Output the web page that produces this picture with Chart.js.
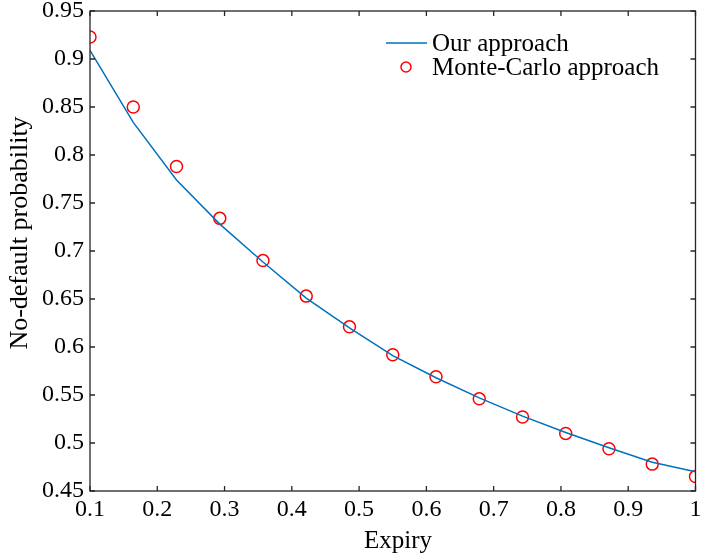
<!DOCTYPE html>
<html>
<head>
<meta charset="utf-8">
<script src="https://cdn.jsdelivr.net/npm/chart.js@4/dist/chart.umd.min.js"></script>
<style>
html,body{margin:0;padding:0;background:#fff;}
#wrap{width:703px;height:556px;}
</style>
</head>
<body>
<div id="wrap"><canvas id="c" width="703" height="556"></canvas></div>
<script>
const expiry = [0.1, 0.1643, 0.2286, 0.2929, 0.3571, 0.4214, 0.4857, 0.55, 0.6143, 0.6786, 0.7429, 0.8071, 0.8714, 0.9357, 1.0];
const ourApproach = [0.909, 0.834, 0.774, 0.728, 0.6885, 0.651, 0.620, 0.591, 0.568, 0.547, 0.528, 0.511, 0.495, 0.480, 0.470];
const monteCarlo = [0.923, 0.850, 0.788, 0.734, 0.690, 0.653, 0.621, 0.592, 0.569, 0.546, 0.527, 0.510, 0.494, 0.478, 0.465];
const xTicks = [0.1, 0.2, 0.3, 0.4, 0.5, 0.6, 0.7, 0.8, 0.9, 1];
const yTicks = [0.45, 0.5, 0.55, 0.6, 0.65, 0.7, 0.75, 0.8, 0.85, 0.9, 0.95];
const seriesNames = ['Our approach', 'Monte-Carlo approach'];
const xTitle = 'Expiry';
const yTitle = 'No-default probability';

const FONT = '"Liberation Serif", "Times New Roman", serif';
const FS_TICK = 24;
const FS_TITLE = 25;
const lineColor = '#0072BD';
const markColor = '#FF0000';

const fmt = v => String(+v.toFixed(2));

const framePlugin = {
  id: 'frame',
  afterDatasetsDraw(chart) {
    const {ctx, chartArea: a, scales} = chart;
    ctx.save();
    ctx.strokeStyle = '#262626';
    ctx.lineWidth = 1.3;
    ctx.strokeRect(a.left, a.top, a.right - a.left, a.bottom - a.top);
    const tl = 5;
    ctx.beginPath();
    xTicks.forEach(v => {
      const x = scales.x.getPixelForValue(v);
      ctx.moveTo(x, a.bottom); ctx.lineTo(x, a.bottom - tl);
      ctx.moveTo(x, a.top); ctx.lineTo(x, a.top + tl);
    });
    yTicks.forEach(v => {
      const y = scales.y.getPixelForValue(v);
      ctx.moveTo(a.left, y); ctx.lineTo(a.left + tl, y);
      ctx.moveTo(a.right, y); ctx.lineTo(a.right - tl, y);
    });
    ctx.stroke();

    // y title
    ctx.fillStyle = '#000';
    ctx.font = '26px ' + FONT;
    ctx.textAlign = 'center';
    ctx.textBaseline = 'middle';
    ctx.save();
    ctx.translate(20, 233);
    ctx.rotate(-Math.PI / 2);
    ctx.fillText(yTitle, 0, 0);
    ctx.restore();

    // x title
    ctx.font = FS_TITLE + 'px ' + FONT;
    ctx.fillText(xTitle, 398, 541);

    // legend
    ctx.textAlign = 'left';
    const lx = 386, tx = 432, y1 = 43, y2 = 67;
    ctx.strokeStyle = lineColor;
    ctx.lineWidth = 1.5;
    ctx.beginPath(); ctx.moveTo(lx, y1); ctx.lineTo(lx + 41, y1); ctx.stroke();
    ctx.fillText(seriesNames[0], tx, y1 + 1);
    ctx.strokeStyle = markColor;
    ctx.beginPath(); ctx.arc(lx + 20, y2, 5, 0, Math.PI * 2); ctx.stroke();
    ctx.fillText(seriesNames[1], tx, y2 + 1);
    ctx.restore();
  }
};

new Chart(document.getElementById('c'), {
  type: 'scatter',
  data: {
    datasets: [
      {
        label: seriesNames[0],
        data: expiry.map((x, i) => ({x, y: ourApproach[i]})),
        showLine: true,
        borderColor: lineColor,
        borderWidth: 1.5,
        pointRadius: 0,
        fill: false,
        tension: 0
      },
      {
        label: seriesNames[1],
        data: expiry.map((x, i) => ({x, y: monteCarlo[i]})),
        showLine: false,
        borderColor: markColor,
        backgroundColor: 'rgba(0,0,0,0)',
        borderWidth: 1.5,
        pointRadius: 6,
        pointStyle: 'circle'
      }
    ]
  },
  options: {
    responsive: false,
    animation: false,
    devicePixelRatio: 1,
    layout: {padding: {top: 11, right: 6, left: 0, bottom: 0}},
    plugins: {legend: {display: false}, tooltip: {enabled: false}},
    scales: {
      x: {
        type: 'linear', min: 0.1, max: 1,
        afterBuildTicks: s => { s.ticks = xTicks.map(v => ({value: v})); },
        afterFit: s => { s.height = 65; s.paddingLeft = 0; s.paddingRight = 0; },
        grid: {display: false, drawTicks: false},
        border: {display: false},
        ticks: {color: '#000', font: {family: FONT, size: FS_TICK}, padding: 4, maxRotation: 0, callback: v => fmt(v)},
        title: {display: false}
      },
      y: {
        type: 'linear', min: 0.45, max: 0.95,
        afterBuildTicks: s => { s.ticks = yTicks.map(v => ({value: v})); },
        afterFit: s => { s.width = 90; s.paddingTop = 0; s.paddingBottom = 0; },
        grid: {display: false, drawTicks: false},
        border: {display: false},
        ticks: {color: '#000', font: {family: FONT, size: FS_TICK}, padding: 6, callback: v => fmt(v)},
        title: {display: false}
      }
    }
  },
  plugins: [framePlugin]
});
</script>
</body>
</html>
